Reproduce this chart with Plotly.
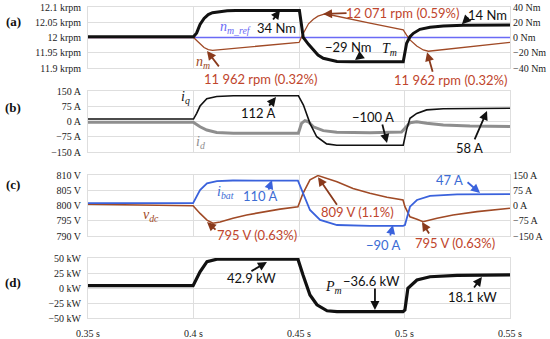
import plotly.graph_objects as go

# ---------------- data ----------------
t_nref = [0.35, 0.55]
n_ref = [12000, 12000]

t_nm = [0.35, 0.40, 0.4015, 0.4031, 0.405, 0.407, 0.409, 0.45, 0.4502, 0.452, 0.4545, 0.4568,
        0.459, 0.4615, 0.463, 0.4836, 0.4994, 0.5010, 0.5026, 0.5058, 0.5089, 0.5113, 0.55]
n_m = [12000, 12000, 11990, 11978, 11967, 11960, 11958, 11984, 11986, 12013, 12045, 12060,
       12070, 12076, 12077, 12047, 12025, 12008, 11992, 11972, 11959, 11955, 11984]

t_tm = [0.35, 0.40, 0.4015, 0.4031, 0.405, 0.407, 0.409, 0.412, 0.416, 0.42, 0.4502, 0.4511,
        0.452, 0.4545, 0.4568, 0.459, 0.4615, 0.465, 0.468, 0.475, 0.4994, 0.5010, 0.5026,
        0.5042, 0.5073, 0.5121, 0.5184, 0.5279, 0.55]
T_m = [1, 1, 6, 17, 25, 30, 32.5, 34, 35, 35.5, 35.5, 18,
       0, -9, -16.4, -23, -27.3, -30, -31.5, -31.7, -31.7, -7.6, 1,
       5.5, 10.7, 13.3, 15, 16, 16.4]

t_iq = [0.35, 0.40, 0.4015, 0.4031, 0.4063, 0.411, 0.4189, 0.4497, 0.4521, 0.4552, 0.4584,
        0.4631, 0.4679, 0.4994, 0.5010, 0.5026, 0.5058, 0.5105, 0.5184, 0.55]
i_q = [12, 12, 40, 76, 112, 123, 127, 127, 81, -9, -75,
       -110, -117, -117, -40, 16, 40, 57, 63, 65]

t_id = [0.35, 0.3999, 0.4031, 0.4063, 0.411, 0.4189, 0.4497, 0.4512, 0.4528, 0.4544, 0.4568,
        0.4615, 0.4679, 0.4836, 0.4986, 0.5002, 0.5026, 0.5058, 0.5105, 0.5184, 0.531, 0.55]
i_d = [-4, -4, -26, -42, -54, -58, -58, -9, 4, -1, -26,
       -45, -53, -55, -52, -34, -6, -1, -9, -17, -22, -25]

t_ib = [0.35, 0.3998, 0.4031, 0.4064, 0.4111, 0.4187, 0.4495, 0.4519, 0.4552, 0.46, 0.468,
        0.4836, 0.4993, 0.5002, 0.5026, 0.5059, 0.5121, 0.5249, 0.55]
i_bat = [12, 12, 76, 109, 120, 123, 122, 60, -22, -71, -96,
         -100, -100, -96, -6, 27, 47, 55, 56]

t_vdc = [0.35, 0.3998, 0.4031, 0.4064, 0.4092, 0.4126, 0.4187, 0.4252, 0.441, 0.4495, 0.4519,
         0.4552, 0.459, 0.468, 0.4756, 0.4836, 0.4917, 0.4993, 0.5002, 0.5026, 0.5059, 0.5088,
         0.5154, 0.523, 0.5344, 0.55]
v_dc = [800.4, 799.9, 797.4, 795.2, 794.2, 794.6, 795.8, 796.9, 798.8, 799.6, 804,
        808.4, 809.8, 807.8, 805.6, 804, 802.7, 801.8, 799.6, 796.3, 795.5, 794.7,
        795.8, 796.9, 798, 799.1]

t_pm = [0.35, 0.3998, 0.4031, 0.4064, 0.4111, 0.4187, 0.4495, 0.4519, 0.4552, 0.4585, 0.4633,
        0.468, 0.4993, 0.5002, 0.5016, 0.5059, 0.5121, 0.5249, 0.55]
P_m = [4, 4, 27, 44, 48, 48, 48, 21.7, -11.7, -28, -38,
       -39.5, -39.5, -36.7, -0.5, 13.3, 18.8, 21, 22]

x_ticks = [0.35, 0.40, 0.45, 0.50, 0.55]
x_tick_text = ["0.35 s", "0.4 s", "0.45 s", "0.5 s", "0.55 s"]
rpm_ticks = [11900, 11950, 12000, 12050, 12100]
rpm_text = ["11.9 krpm", "11.95 krpm", "12 krpm", "12.05 krpm", "12.1 krpm"]
nm_ticks = [-40, -20, 0, 20, 40]
nm_text = ["\u221240 Nm", "\u221220 Nm", "0 Nm", "20 Nm", "40 Nm"]
a_ticks = [-150, -75, 0, 75, 150]
a_text = ["\u2212150 A", "\u221275 A", "0 A", "75 A", "150 A"]
v_ticks = [790, 795, 800, 805, 810]
v_text = ["790 V", "795 V", "800 V", "805 V", "810 V"]
kw_ticks = [-50, -25, 0, 25, 50]
kw_text = ["\u221250 kW", "\u221225 kW", "0 kW", "25 kW", "50 kW"]

# ---------------- styling ----------------
BLACK = "#111111"
BROWN = "#a04a26"
ARROW_BROWN = "#8a3a1c"
RED = "#c0452c"
BLUE = "#3a62dc"
TXT_BLUE = "#3c6cd4"
REF_BLUE = "#6a6af5"
GREY = "#8e8e8e"
GRID = "#dedede"
SERIF = "Liberation Serif"
SANS = "Lato"

W, H = 550, 339
L, R, T, B = 88, 40, 7, 21
PW, PH = W - L - R, H - T - B


def px(x, y):
    """window pixel -> paper coordinates"""
    return (x - L) / PW, (H - B - y) / PH


def dom(top, bottom):
    return [max(0.0, px(0, bottom)[1]), min(1.0, px(0, top)[1])]


fig = go.Figure()

def add(t, v, xa, ya, color, width):
    fig.add_trace(go.Scatter(x=t, y=v, xaxis=xa, yaxis=ya, mode="lines",
                             line=dict(color=color, width=width), hoverinfo="skip",
                             showlegend=False))

add(t_nref, n_ref, "x", "y", REF_BLUE, 1.6)
add(t_nm, n_m, "x", "y", BROWN, 1.3)
add(t_tm, T_m, "x", "y5", BLACK, 3)
add(t_id, i_d, "x2", "y2", GREY, 3)
add(t_iq, i_q, "x2", "y2", BLACK, 1.6)
add(t_vdc, v_dc, "x3", "y3", BROWN, 1.6)
add(t_ib, i_bat, "x3", "y6", BLUE, 1.8)
add(t_pm, P_m, "x4", "y4", BLACK, 3.2)

tickfont = dict(family=SERIF, size=10, color="#222222")

xcommon = dict(range=[0.35, 0.55], tickvals=x_ticks, ticktext=x_tick_text,
               showgrid=True, gridcolor=GRID, gridwidth=1, zeroline=False,
               showline=True, linecolor=GRID, mirror=True, ticks="", ticklen=0,
               automargin=False, tickfont=tickfont, domain=[0, 1],
               ticklabeloverflow="allow")


def yaxis(rng, vals, text, domain, anchor):
    return dict(range=rng, tickvals=vals, ticktext=text, domain=domain, anchor=anchor,
                showgrid=True, gridcolor=GRID, gridwidth=1, zeroline=False,
                showline=True, linecolor=GRID, mirror=True, ticks="", ticklen=0,
                automargin=False, ticklabelstandoff=4, tickfont=tickfont,
                ticklabeloverflow="allow")


def raxis(rng, vals, text, over, anchor):
    return dict(range=rng, tickvals=vals, ticktext=text, overlaying=over, side="right",
                anchor=anchor, showgrid=False, zeroline=False, ticks="", ticklen=0,
                automargin=False, ticklabelstandoff=2, tickfont=tickfont, showline=False,
                ticklabeloverflow="allow")


da, db, dc, dd = dom(7, 68), dom(91, 152), dom(175, 236), dom(258, 318)

layout = dict(
    width=W, height=H, margin=dict(l=L, r=R, t=T, b=B, pad=0, autoexpand=False),
    paper_bgcolor="white", plot_bgcolor="white", showlegend=False,
    xaxis=dict(xcommon, anchor="y", showticklabels=False),
    xaxis2=dict(xcommon, anchor="y2", showticklabels=False),
    xaxis3=dict(xcommon, anchor="y3", showticklabels=False),
    xaxis4=dict(xcommon, anchor="y4", showticklabels=True, ticklabelstandoff=6),
    yaxis=yaxis([11900, 12100], rpm_ticks, rpm_text, da, "x"),
    yaxis2=yaxis([-150, 150], a_ticks, a_text, db, "x2"),
    yaxis3=yaxis([790, 810], v_ticks, v_text, dc, "x3"),
    yaxis4=yaxis([-50, 50], kw_ticks, kw_text, dd, "x4"),
    yaxis5=raxis([-40, 40], nm_ticks, nm_text, "y", "x"),
    yaxis6=raxis([-150, 150], a_ticks, a_text, "y3", "x3"),
)
fig.update_layout(layout)

annotations = []

# arrows (tip in data coordinates, tail offset in pixels)
arrows = [
    ("x", "y5", 0.4410, 36, -8, 11, BLACK),
    ("x", "y", 0.4614, 12077, 25, -1, ARROW_BROWN),
    ("x", "y5", 0.5272, 17.5, 8, -8, BLACK),
    ("x", "y5", 0.4765, -29.5, 8, -6, BLACK),
    ("x", "y", 0.5107, 11952, 6, 21, ARROW_BROWN),
    ("x", "y", 0.4064, 11956, 13, 17, ARROW_BROWN),
    ("x2", "y2", 0.4391, 120, -8, 10, BLACK),
    ("x2", "y2", 0.4917, -106, -5, -20, BLACK),
    ("x2", "y2", 0.5391, 52, -13, 30, BLACK),
    ("x3", "y6", 0.4372, 125, -4, 11, BLUE),
    ("x3", "y3", 0.4064, 794.6, 10, 9, ARROW_BROWN),
    ("x3", "y3", 0.4590, 809.3, 20, 29, ARROW_BROWN),
    ("x3", "y6", 0.4945, -96, -3, 12, BLUE),
    ("x3", "y3", 0.5083, 794.6, 8, 13, ARROW_BROWN),
    ("x3", "y6", 0.5358, 61.5, -14, -12, BLUE),
    ("x4", "y4", 0.4348, 43.3, -17, 10, BLACK),
    ("x4", "y4", 0.4860, -36.7, 0, -23, BLACK),
    ("x4", "y4", 0.5367, 18.3, -9, 12, BLACK),
]
for xr, yr, x, y, ax, ay, c in arrows:
    annotations.append(dict(xref=xr, yref=yr, x=x, y=y, ax=ax, ay=ay, text="",
                            showarrow=True, arrowhead=2, arrowsize=1, arrowwidth=1.8,
                            arrowcolor=c, standoff=0, startstandoff=0))

# value labels (window pixel positions)
labels = [
    ("34 Nm", 276, 28, BLACK), ("12 071 rpm (0.59%)", 402, 13, RED),
    ("14 Nm", 487, 15, BLACK), ("\u221229 Nm", 348, 47, BLACK),
    ("11 962 rpm (0.32%)", 260, 79, RED), ("11 962 rpm (0.32%)", 450, 80, RED),
    ("112 A", 258, 113, BLACK), ("\u2212100 A", 373, 117, BLACK), ("58 A", 469, 148, BLACK),
    ("110 A", 260, 196, TXT_BLUE), ("795 V (0.63%)", 257, 235, RED),
    ("809 V (1.1%)", 357, 212, RED), ("\u221290 A", 383, 245, TXT_BLUE),
    ("795 V (0.63%)", 455, 243, RED), ("47 A", 449, 180, TXT_BLUE),
    ("42.9 kW", 251, 278, BLACK), ("\u221236.6 kW", 371, 281, BLACK),
    ("18.1 kW", 472, 297, BLACK),
]
for txt, x, y, c in labels:
    px_, py_ = px(x, y)
    annotations.append(dict(xref="paper", yref="paper", x=px_, y=py_, text=txt,
                            showarrow=False, xanchor="center", yanchor="middle",
                            font=dict(family=SANS, size=13, color=c)))

# variable names
names = [
    ("<i>n</i><sub><i>m_ref</i></sub>", 235, 28, REF_BLUE),
    ("<i>n</i><sub><i>m</i></sub>", 203, 62, BROWN),
    ("<i>T</i><sub><i>m</i></sub>", 389, 50, BLACK),
    ("<i>i</i><sub><i>q</i></sub>", 185, 97, BLACK),
    ("<i>i</i><sub><i>d</i></sub>", 200, 142, GREY),
    ("<i>i</i><sub><i>bat</i></sub>", 225, 192, TXT_BLUE),
    ("<i>v</i><sub><i>dc</i></sub>", 151, 216, BROWN),
    ("<i>P</i><sub><i>m</i></sub>", 333, 287, BLACK),
]
for txt, x, y, c in names:
    px_, py_ = px(x, y)
    annotations.append(dict(xref="paper", yref="paper", x=px_, y=py_, text=txt,
                            showarrow=False, xanchor="center", yanchor="middle",
                            font=dict(family=SERIF, size=14, color=c)))

# panel labels
for txt, y in [("(a)", 21), ("(b)", 107), ("(c)", 184), ("(d)", 282)]:
    px_, py_ = px(13, y)
    annotations.append(dict(xref="paper", yref="paper", x=px_, y=py_, text="<b>" + txt + "</b>",
                            showarrow=False, xanchor="center", yanchor="middle",
                            font=dict(family=SERIF, size=13, color="#111111")))

fig.update_layout(annotations=annotations)
# remove the default 8 px page margin so the 550x339 figure fills the window exactly
fig.write_html("out.html", config={"displayModeBar": False},
               post_script="document.body.style.margin='0px';document.body.style.overflow='hidden';")
